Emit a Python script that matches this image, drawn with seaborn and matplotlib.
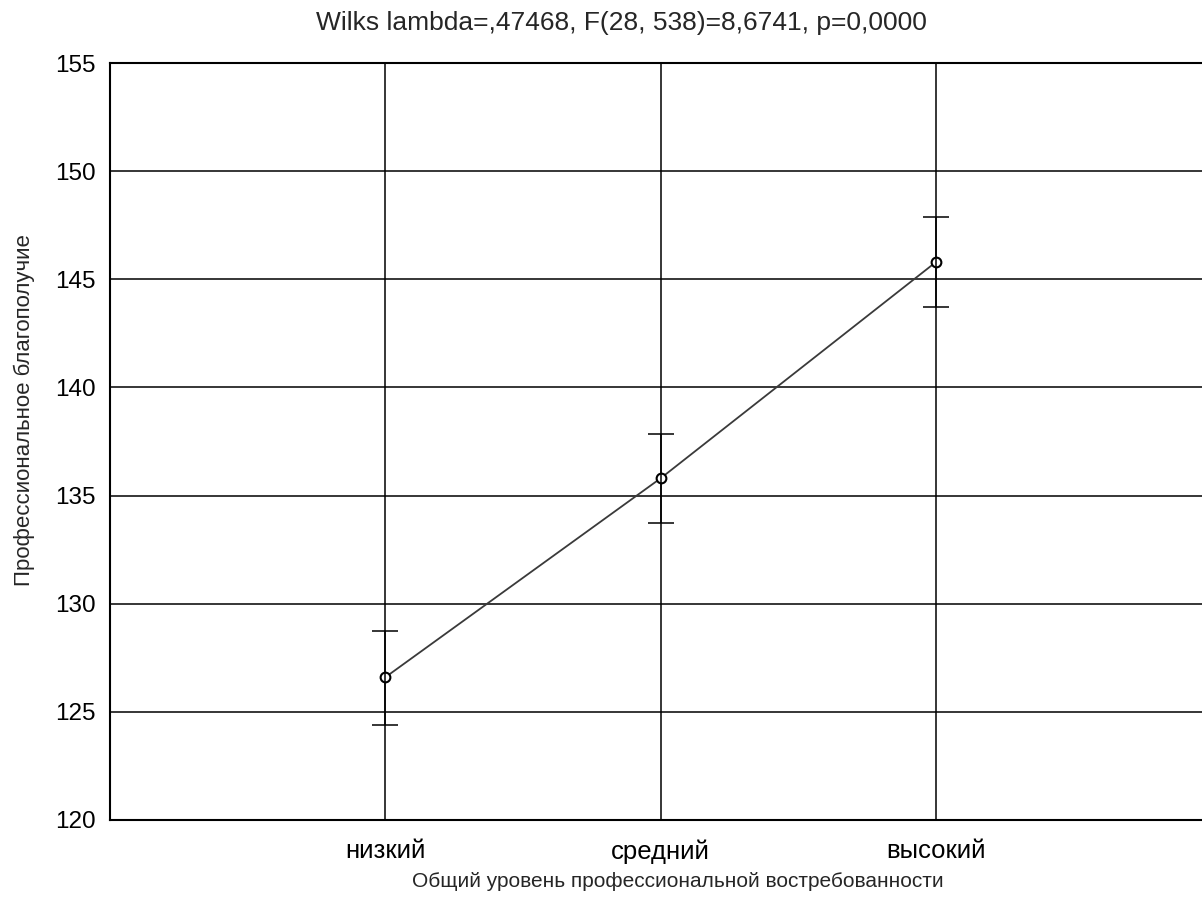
import seaborn as sns
import matplotlib.pyplot as plt
import pandas as pd
import numpy as np

# group means and confidence limits
categories = ['низкий', 'средний', 'высокий']
means = [126.6, 135.8, 145.8]
upper = [128.75, 137.85, 147.9]
lower = [124.4, 133.75, 143.7]

df = pd.DataFrame({'pos': np.arange(len(categories)), 'group': categories,
                   'mean': means, 'upper': upper, 'lower': lower})

sns.set_style('white')
plt.rcParams['font.family'] = ['Liberation Sans', 'DejaVu Sans']

fig = plt.figure(figsize=(12.02, 9.08), dpi=100)
ax = fig.add_axes([110 / 1202, 1 - 820 / 908, 1 - 110 / 1202, (820 - 63) / 908])

# horizontal grid every 5, vertical at each category
ax.set_axisbelow(True)
ax.grid(True, color='black', linewidth=1.1)

sns.lineplot(data=df, x='pos', y='mean', ax=ax, color='#3a3a3a', linewidth=1.3,
             marker='o', markersize=7, markerfacecolor='white',
             markeredgecolor='black', markeredgewidth=1.5)

# confidence interval caps
ax.errorbar(df['pos'], df['mean'],
            yerr=[df['mean'] - df['lower'], df['upper'] - df['mean']],
            fmt='none', ecolor='black', elinewidth=1.1, capsize=9.7, capthick=1.1)

ax.set_xlim(-1, 2.966)
ax.set_ylim(120, 155)
ax.set_xticks(df['pos'])
ax.set_xticklabels(categories)
ax.set_yticks(np.arange(120, 156, 5))
ax.tick_params(axis='both', length=0, colors='black')
ax.tick_params(axis='y', pad=10, labelsize=17.5)
ax.tick_params(axis='x', pad=14, labelsize=18.5)

for side in ['left', 'bottom', 'top']:
    ax.spines[side].set_color('black')
    ax.spines[side].set_linewidth(1.5)
ax.spines['right'].set_visible(False)

ax.set_xlabel('Общий уровень профессиональной востребованности', fontsize=15, labelpad=6)
ax.set_ylabel('Профессиональное благополучие', fontsize=16, labelpad=16)
ax.xaxis.set_label_coords(0.52, -0.069)
ax.yaxis.set_label_coords(-0.069, 0.542)
ax.set_title('Wilks lambda=,47468, F(28, 538)=8,6741, p=0,0000', fontsize=19, pad=24,
             x=0.468)

fig.savefig('out.png', dpi=100)
